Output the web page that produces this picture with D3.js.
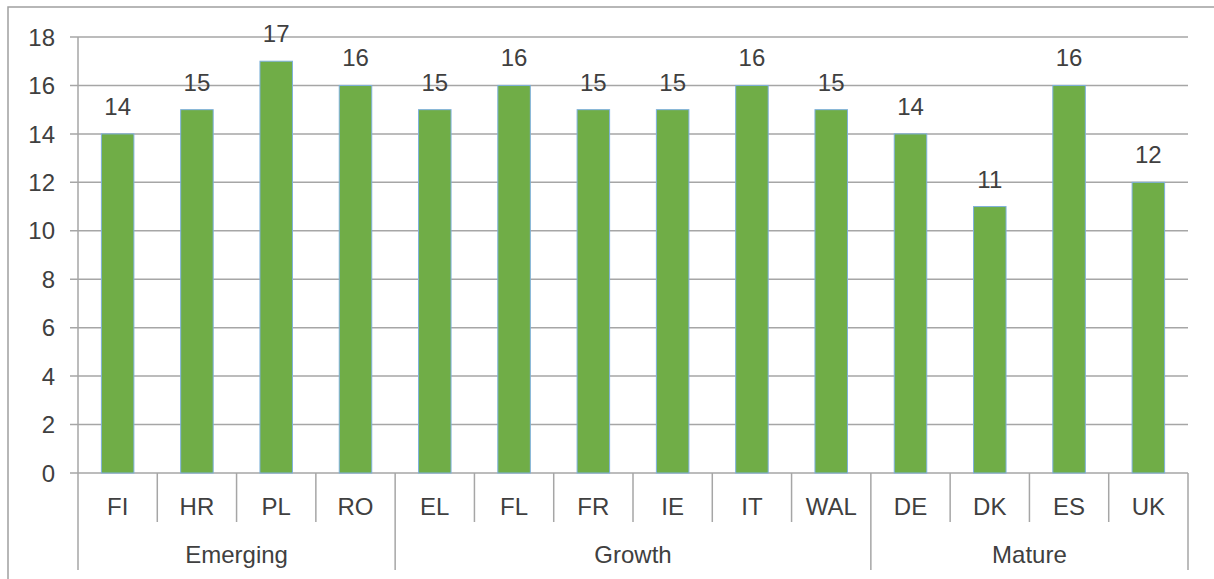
<!DOCTYPE html>
<html>
<head>
<meta charset="utf-8">
<script src="https://cdn.jsdelivr.net/npm/d3@7"></script>
<style>
html,body{margin:0;padding:0;background:#fff;}
svg{display:block;}
text{font-family:"Liberation Sans",Arial,sans-serif;fill:#404040;}
</style>
</head>
<body>
<svg id="chart" width="1214" height="579"></svg>
<script>
const categories = ["FI","HR","PL","RO","EL","FL","FR","IE","IT","WAL","DE","DK","ES","UK"];
const groups = ["Emerging","Emerging","Emerging","Emerging","Growth","Growth","Growth","Growth","Growth","Growth","Mature","Mature","Mature","Mature"];
const values = [14,15,17,16,15,16,15,15,16,15,14,11,16,12];
const yTicks = [0,2,4,6,8,10,12,14,16,18];

const W = 1214, H = 579;
const margin = {left:78, right:26, top:37, bottom:106};
const FS = 24;
const svg = d3.select("#chart");

// outer border
svg.append("rect").attr("x",8).attr("y",7).attr("width",W-8+2).attr("height",H)
  .attr("fill","none").attr("stroke","#a0a0a0").attr("stroke-width",1.5);

const x0 = margin.left, x1 = W - margin.right;
const yTop = margin.top, yBot = H - margin.bottom;

const x = d3.scaleBand().domain(categories).range([x0,x1]).paddingInner(0).paddingOuter(0);
const y = d3.scaleLinear().domain([0,18]).range([yBot,yTop]);

// gridlines
svg.append("g").selectAll("line").data(yTicks).join("line")
  .attr("x1",x0-8).attr("x2",x1).attr("y1",d=>y(d)).attr("y2",d=>y(d))
  .attr("stroke","#a6a6a6").attr("stroke-width",1.5);

// y tick labels
svg.append("g").selectAll("text").data(yTicks).join("text")
  .attr("x",55).attr("y",d=>y(d)).attr("dy","0.36em").attr("text-anchor","end")
  .attr("font-size",FS).text(d=>d);

// bars
const bw = x.bandwidth()*0.41;
svg.append("g").selectAll("rect").data(values).join("rect")
  .attr("x",(d,i)=>x(categories[i])+x.bandwidth()/2-bw/2)
  .attr("width",bw)
  .attr("y",d=>y(d)).attr("height",d=>y(0)-y(d))
  .attr("fill","#70ad47").attr("stroke","#7eb0dc").attr("stroke-width",1);

// value labels
svg.append("g").selectAll("text").data(values).join("text")
  .attr("x",(d,i)=>x(categories[i])+x.bandwidth()/2)
  .attr("y",d=>y(d)-19).attr("text-anchor","middle")
  .attr("font-size",FS).text(d=>d);

// vertical axis line
svg.append("line").attr("x1",x0).attr("x2",x0).attr("y1",yTop).attr("y2",570)
  .attr("stroke","#a6a6a6").attr("stroke-width",1.5);

// category separators
const groupStarts = new Set();
for(let i=1;i<categories.length;i++) if(groups[i]!==groups[i-1]) groupStarts.add(i);
svg.append("g").selectAll("line").data(d3.range(1,categories.length)).join("line")
  .attr("x1",i=>x(categories[i])).attr("x2",i=>x(categories[i]))
  .attr("y1",yBot).attr("y2",i=>groupStarts.has(i)?570:522)
  .attr("stroke","#a6a6a6").attr("stroke-width",1.5);
svg.append("line").attr("x1",x1).attr("x2",x1).attr("y1",yBot).attr("y2",570)
  .attr("stroke","#a6a6a6").attr("stroke-width",1.5);

// category labels
svg.append("g").selectAll("text").data(categories).join("text")
  .attr("x",d=>x(d)+x.bandwidth()/2).attr("y",506).attr("dy","0.36em")
  .attr("text-anchor","middle").attr("font-size",FS).text(d=>d);

// group labels
const groupNames = Array.from(new Set(groups));
groupNames.forEach(g=>{
  const idx = categories.filter((c,i)=>groups[i]===g);
  const gx0 = x(idx[0]), gx1 = x(idx[idx.length-1])+x.bandwidth();
  svg.append("text").attr("x",(gx0+gx1)/2).attr("y",554).attr("dy","0.36em")
    .attr("text-anchor","middle").attr("font-size",FS).text(g);
});
</script>
</body>
</html>
